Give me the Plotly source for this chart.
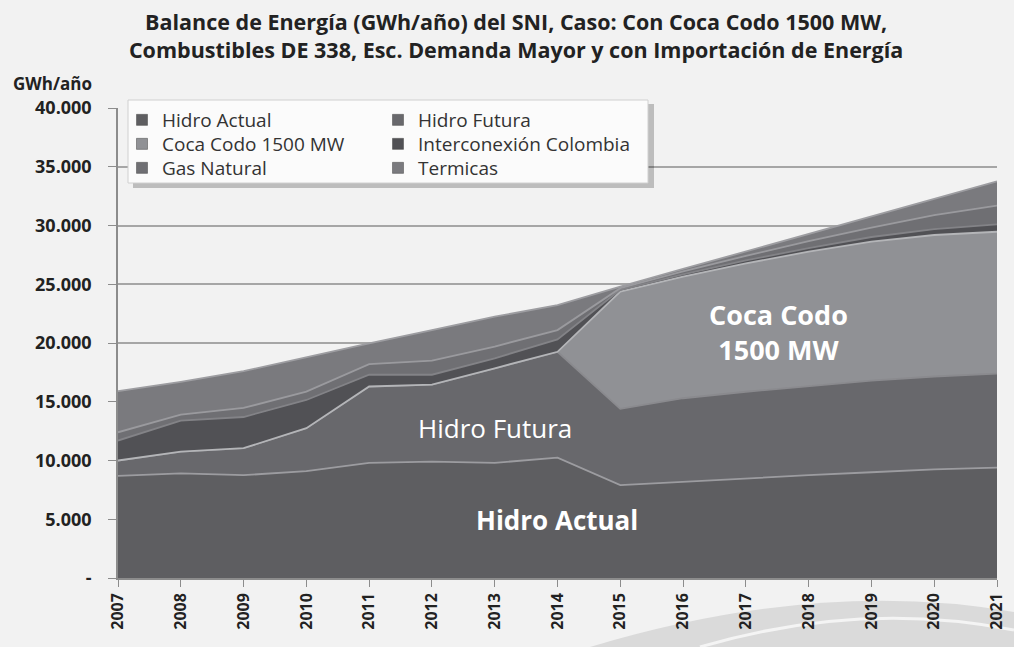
import plotly.graph_objects as go

years = list(range(2007, 2022))

hidro_actual = [8700, 8900, 8750, 9100, 9800, 9900, 9800, 10250, 7900, 8200, 8500, 8750, 9000, 9250, 9400]
hidro_futura = [1300, 1850, 2300, 3650, 6500, 6550, 8050, 9000, 6500, 7100, 7350, 7600, 7800, 7900, 8000]
coca_codo = [0, 0, 0, 0, 0, 0, 0, 0, 9970, 10340, 10930, 11420, 11820, 12040, 12070]
interconexion = [1700, 2650, 2650, 2400, 1000, 850, 850, 1050, 150, 200, 250, 300, 400, 500, 630]
gas_natural = [700, 500, 770, 710, 900, 1200, 1000, 800, 150, 250, 380, 600, 800, 1200, 1600]
termicas = [3500, 2800, 3130, 2940, 1770, 2600, 2540, 2130, 130, 210, 390, 630, 930, 1360, 2050]

series_names = ["Hidro Actual", "Hidro Futura", "Coca Codo 1500 MW",
                "Interconexión Colombia", "Gas Natural", "Termicas"]
series_values = [hidro_actual, hidro_futura, coca_codo, interconexion, gas_natural, termicas]

y_tick_vals = [0, 5000, 10000, 15000, 20000, 25000, 30000, 35000, 40000]
y_tick_text = ["-", "5.000", "10.000", "15.000", "20.000", "25.000", "30.000", "35.000", "40.000"]

fill_colors = ["#5e5e61", "#68686c", "#909195", "#515155", "#6f6f73", "#7a7a7e"]
edge_colors = ["#9c9ca0", "#8a8a8e", "#b4b5b8", "#838387", "#9a9a9e", "#9d9da1"]

FONT = "Open Sans"

W, H = 1014, 647
L, R, T, B = 118, 17, 108, 69
pw, ph = W - L - R, H - T - B


def px(xp):
    return (xp - L) / pw


def py(yp):
    return (H - B - yp) / ph


def yr(xp):
    return 2007 + (xp - L) / pw * 14


def val(yp):
    return (H - B - yp) / ph * 40000


# legend slot (column start pixel, row centre pixel) for each series, row-major 2 columns
legend_ids = ["legend", "legend2", "legend3", "legend4", "legend5", "legend6"]
legend_pos = [(122, 120), (378, 120), (122, 144), (378, 144), (122, 168), (378, 168)]

fig = go.Figure()
for name, vals, fc, ec in zip(series_names, series_values, fill_colors, edge_colors):
    fig.add_trace(go.Scatter(
        x=years, y=vals, name=name, stackgroup="one", mode="lines",
        line=dict(color=ec, width=1.8), fillcolor=fc,
        legendgroup=name, showlegend=False, hoverinfo="x+y+name"))

# legend entries (square swatches) tied to the area traces
for name, fc, lg in zip(series_names, fill_colors, legend_ids):
    fig.add_trace(go.Scatter(
        x=[None], y=[None], name=name, mode="markers", legendgroup=name,
        marker=dict(symbol="square", size=11, color=fc,
                    line=dict(color="#444", width=0.5)),
        showlegend=True, legend=lg))

legend_font = dict(family=FONT, size=19, color="#333333")
legend_layouts = {}
for lg, (lx, ly) in zip(legend_ids, legend_pos):
    legend_layouts[lg] = dict(x=px(lx), y=py(ly), xanchor="left", yanchor="middle",
                              bgcolor="rgba(0,0,0,0)", font=legend_font,
                              tracegroupgap=0, borderwidth=0)

fig.update_layout(
    width=W, height=H,
    margin=dict(l=L, r=R, t=T, b=B, autoexpand=False),
    paper_bgcolor="#f2f2f2", plot_bgcolor="#f2f2f2",
    title=dict(
        text="<b>Balance de Energía (GWh/año) del SNI, Caso: Con Coca Codo 1500 MW,<br>"
             "Combustibles DE 338, Esc. Demanda Mayor y con Importación de Energía</b>",
        x=0.509, xanchor="center", y=1 - 30 / H, yanchor="top",
        font=dict(family=FONT, size=21.5, color="#222222")),
    xaxis=dict(
        range=[2007, 2021], tickmode="array", tickvals=years,
        ticktext=[str(y) for y in years], tickangle=-90,
        tickfont=dict(family=FONT, size=16, color="#222222", weight="bold"),
        showgrid=False, showline=True, linecolor="#8c8c8c", linewidth=1.5,
        ticks="outside", ticklen=7, tickcolor="#8c8c8c", zeroline=False),
    yaxis=dict(
        range=[0, 40000], tickmode="array", tickvals=y_tick_vals, ticktext=y_tick_text,
        tickfont=dict(family=FONT, size=18, color="#222222", weight="bold"),
        showgrid=True, gridcolor="#a6a6a6", gridwidth=1.5,
        showline=True, linecolor="#8c8c8c", linewidth=1.5,
        ticks="outside", ticklen=8, tickcolor="#8c8c8c", zeroline=False,
        ticklabelstandoff=13),
    showlegend=True,
    **legend_layouts,
)

# decorative swoosh bottom-right
fig.add_shape(type="path", xref="paper", yref="paper", layer="below",
              path=(f"M {px(590)},{py(647)} Q {px(820)},{py(578)} {px(1014)},{py(612)} "
                    f"L {px(1014)},{py(647)} Z"),
              fillcolor="#dadada", line=dict(width=0))
fig.add_shape(type="path", xref="paper", yref="paper", layer="below",
              path=(f"M {px(700)},{py(647)} Q {px(860)},{py(600)} {px(1014)},{py(630)}"),
              line=dict(color="#f4f4f4", width=3))

# legend box with shadow
fig.add_shape(type="rect", xref="paper", yref="paper",
              x0=px(133), x1=px(654), y0=py(188), y1=py(104),
              fillcolor="rgba(0,0,0,0.22)", line=dict(width=0), layer="above")
fig.add_shape(type="rect", xref="paper", yref="paper",
              x0=px(128), x1=px(648), y0=py(183), y1=py(100),
              fillcolor="#fbfbfb", line=dict(color="#d0d0d0", width=1), layer="above")

# y-axis unit label
fig.add_annotation(text="<b>GWh/año</b>", xref="paper", yref="paper",
                   x=px(11), y=py(83), xanchor="left", yanchor="middle",
                   showarrow=False, font=dict(family=FONT, size=17, color="#222222"))

# in-chart labels
fig.add_annotation(text="<b>Hidro Actual</b>", x=yr(557), y=val(520), showarrow=False,
                   font=dict(family=FONT, size=26, color="white"))
fig.add_annotation(text="Hidro Futura", x=yr(495), y=val(428), showarrow=False,
                   font=dict(family=FONT, size=26, color="white"))
fig.add_annotation(text="<b>Coca Codo<br>1500 MW</b>", x=yr(778), y=val(332), showarrow=False,
                   font=dict(family=FONT, size=27, color="white"))

fig.write_html("out.html", config={"displayModeBar": False},
               post_script="document.body.style.margin='0px';")
